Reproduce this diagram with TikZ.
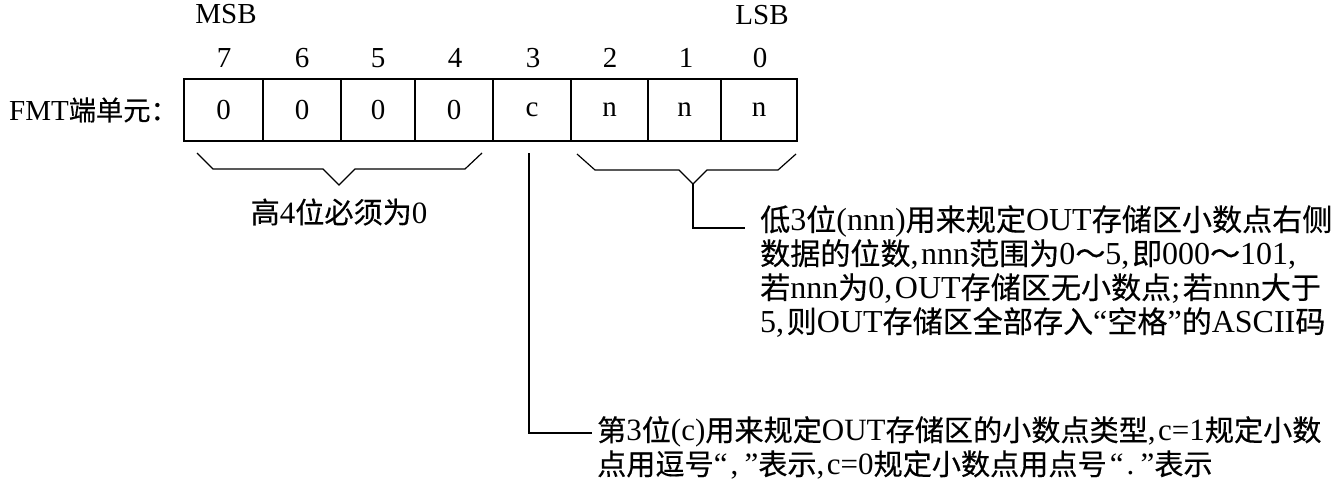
\documentclass[tikz,border=0pt]{standalone}
\usepackage{fontspec}
\setmainfont{Liberation Serif}
\newfontfamily\cjk[Scale=0.94,FakeBold=0.4]{Noto Sans CJK SC}
\newcommand\zh[1]{{\cjk #1}}
\newcommand\cm{,\kern0.08em}
\begin{document}
\begin{tikzpicture}[x=1pt,y=-1pt,
  txt/.style={font=\fontsize{29}{34}\selectfont, inner sep=0pt},
  big/.style={font=\fontsize{31}{34}\selectfont, inner sep=0pt},
  para/.style={font=\fontsize{32}{34}\selectfont, inner sep=0pt, anchor=north west, align=left},
  cell/.style={draw, line width=1.2pt, minimum height=62pt, inner sep=0pt, font=\fontsize{29}{34}\selectfont},
  ln/.style={line width=1.2pt}]
\useasboundingbox (0,0) rectangle (1336,485);
% label
\node[txt, anchor=east] (lab) at (178,110) {FMT\zh{端单元：}};
% cells
\node[cell, minimum width=79pt] (b7) at (223.5,110) {0};
\node[cell, minimum width=78pt] (b6) at (302,110) {0};
\node[cell, minimum width=74pt] (b5) at (378,110) {0};
\node[cell, minimum width=78pt] (b4) at (454,110) {0};
\node[cell, minimum width=78pt] (b3) at (532,110) {c};
\node[cell, minimum width=77pt] (b2) at (609.5,110) {n};
\node[cell, minimum width=73pt] (b1) at (684.5,110) {n};
\node[cell, minimum width=76pt] (b0) at (759,110) {n};
% bit numbers
\node[txt] (n7) at (224,58) {7};
\node[txt] (n6) at (302,58) {6};
\node[txt] (n5) at (378,58) {5};
\node[txt] (n4) at (455,58) {4};
\node[txt] (n3) at (533,58) {3};
\node[txt] (n2) at (610,58) {2};
\node[txt] (n1) at (686,58) {1};
\node[txt] (n0) at (760,58) {0};
\node[txt] (msb) at (226,14) {MSB};
\node[txt] (lsb) at (762,15) {LSB};
% left brace
\coordinate (lt) at (339,185);
\draw[ln] (197,153) -- (213,169) -- (323,169) -- (lt) -- (355,169) -- (465,169) -- (482,153);
\node[big] (hi) at (339,212) {\zh{高}4\zh{位必须为}0};
% right brace
\coordinate (rt) at (693,184);
\draw[ln] (577,154) -- (595,170) -- (679,170) -- (rt) -- (707,170) -- (778,170) -- (796,154);
% low text
\node[para] (lo) at (760,205)
 {\zh{低}3\zh{位}(nnn)\zh{用来规定}OUT\zh{存储区小数点右侧}\\
  \zh{数据的位数}\cm nnn\zh{范围为}0\zh{～}5\cm\zh{即}000\zh{～}101\cm\\
  \zh{若}nnn\zh{为}0\cm OUT\zh{存储区无小数点};\kern0.08em\zh{若}nnn\zh{大于}\\
  5\cm\zh{则}OUT\zh{存储区全部存入}“\zh{空格}”\zh{的}ASCII\zh{码}};
\coordinate (rc) at (693,228);
\draw[ln] (rt) -- (rc) -- (745,228);
% c text
\node[para, font=\fontsize{31}{34}\selectfont] (ct) at (597,416)
 {\zh{第}3\zh{位}(c)\zh{用来规定}OUT\zh{存储区的小数点类型}\cm c=1\zh{规定小数}\\
  \zh{点用逗号}“\kern0.1em,\kern0.2em”\zh{表示}\cm c=0\zh{规定小数点用点号}\kern0.1em“\kern0.1em.\kern0.2em”\zh{表示}};
\coordinate (ctop) at (529,153);
\coordinate (cc) at (529,433);
\draw[ln] (ctop) -- (cc) -- (592,433);
\end{tikzpicture}
\end{document}
